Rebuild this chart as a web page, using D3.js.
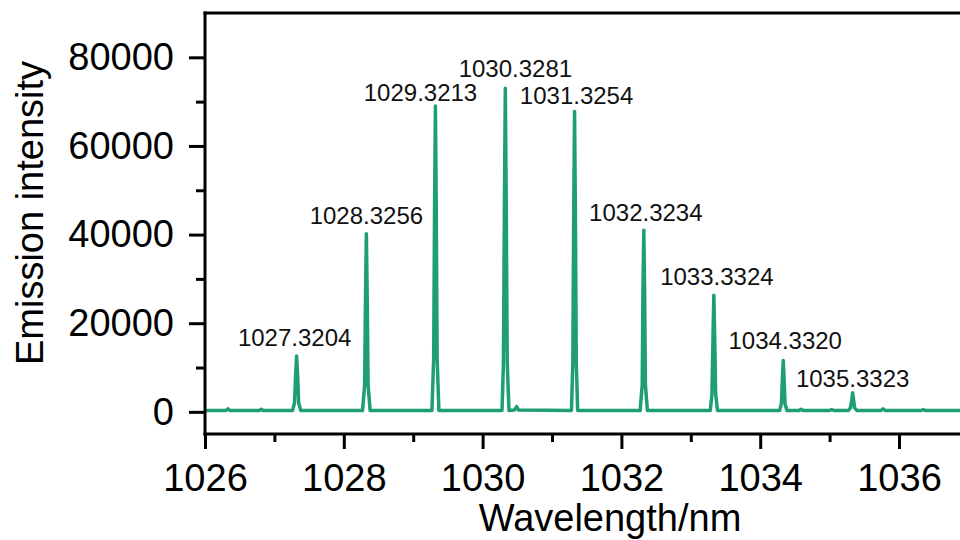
<!DOCTYPE html>
<html>
<head>
<meta charset="utf-8">
<script src="https://cdn.jsdelivr.net/npm/d3@7/dist/d3.min.js"></script>
<style>
  html, body { margin: 0; padding: 0; background: #ffffff; }
  svg { display: block; font-family: "Liberation Sans", Arial, sans-serif; }
</style>
</head>
<body>
<svg id="chart" width="960" height="540"></svg>
<script>
// ---------------- data ----------------
const peakWavelengths = [1027.3204, 1028.3256, 1029.3213, 1030.3281, 1031.3254, 1032.3234, 1033.3324, 1034.3320, 1035.3323];
const peakHeights = [12600, 40200, 69000, 73000, 67800, 41000, 26300, 11600, 4300];
const peakLabels = ["1027.3204", "1028.3256", "1029.3213", "1030.3281", "1031.3254", "1032.3234", "1033.3324", "1034.3320", "1035.3323"];

const spectrumWavelength = [
  1026.00, 1026.30, 1026.33, 1026.36, 1026.78, 1026.81, 1026.84,
  1027.26, 1027.29, 1027.305, 1027.32, 1027.335, 1027.35, 1027.38,
  1028.27, 1028.30, 1028.313, 1028.325, 1028.337, 1028.35, 1028.38,
  1029.27, 1029.295, 1029.308, 1029.32, 1029.332, 1029.345, 1029.37,
  1030.28, 1030.30, 1030.315, 1030.327, 1030.34, 1030.355, 1030.38, 1030.46, 1030.49, 1030.52,
  1031.28, 1031.30, 1031.313, 1031.325, 1031.337, 1031.35, 1031.37,
  1032.27, 1032.30, 1032.311, 1032.323, 1032.335, 1032.346, 1032.375,
  1033.28, 1033.305, 1033.32, 1033.332, 1033.344, 1033.358, 1033.385,
  1034.28, 1034.305, 1034.32, 1034.332, 1034.344, 1034.358, 1034.385,
  1034.56, 1034.59, 1034.62, 1035.00, 1035.03, 1035.06,
  1035.27, 1035.30, 1035.32, 1035.332, 1035.345, 1035.36, 1035.395,
  1035.74, 1035.77, 1035.80, 1036.32, 1036.35, 1036.38, 1037.00
];
const spectrumIntensity = [
  300, 300, 700, 300, 300, 600, 300,
  300, 2000, 8000, 12600, 8000, 2000, 300,
  300, 6000, 26000, 40200, 26000, 6000, 300,
  300, 12000, 46000, 69000, 46000, 12000, 300,
  300, 11000, 48000, 73000, 48000, 11000, 300, 400, 1200, 400,
  300, 11000, 45000, 67800, 45000, 11000, 300,
  300, 6000, 27000, 41000, 27000, 6000, 300,
  300, 4000, 17000, 26300, 17000, 4000, 300,
  300, 1800, 7500, 11600, 7500, 1800, 300,
  300, 600, 300, 300, 500, 300,
  300, 900, 2800, 4300, 2800, 900, 300,
  300, 700, 300, 300, 500, 300, 300
];

const xMajorTicks = [1026, 1028, 1030, 1032, 1034, 1036];
const xMinorTicks = [1027, 1029, 1031, 1033, 1035, 1037];
const yMajorTicks = [0, 20000, 40000, 60000, 80000];
const yMinorTicks = [10000, 30000, 50000, 70000];
const xTitle = "Wavelength/nm";
const yTitle = "Emission intensity";

// ---------------- layout ----------------
const svg = d3.select("#chart");
const plotLeft = 205, plotTop = 13, plotBottom = 434;
const x = d3.scaleLinear().domain([1026, 1037]).range([plotLeft, plotLeft + 69.4 * 11]);
const y = d3.scaleLinear().domain([-5000, 90000]).range([plotBottom, plotTop]);
const lineColor = "#1E9D77";

// spectrum line
const points = spectrumWavelength.map((w, i) => [w, spectrumIntensity[i]]);
svg.append("path")
  .datum(points)
  .attr("fill", "none")
  .attr("stroke", lineColor)
  .attr("stroke-width", 3.5)
  .attr("stroke-linejoin", "round")
  .attr("d", d3.line().x(d => x(d[0])).y(d => y(d[1])));

// axes
const axisFont = "38px";
const gx = svg.append("g").attr("transform", `translate(0,${plotBottom})`);
gx.call(d3.axisBottom(x).tickValues(xMajorTicks).tickSize(15).tickPadding(15).tickFormat(d3.format("d")));
const gxMinor = svg.append("g").attr("transform", `translate(0,${plotBottom})`);
gxMinor.call(d3.axisBottom(x).tickValues(xMinorTicks).tickSize(8).tickFormat(""));

const gy = svg.append("g").attr("transform", `translate(${plotLeft},0)`);
gy.call(d3.axisLeft(y).tickValues(yMajorTicks).tickSize(16).tickPadding(15).tickFormat(d3.format("d")));
const gyMinor = svg.append("g").attr("transform", `translate(${plotLeft},0)`);
gyMinor.call(d3.axisLeft(y).tickValues(yMinorTicks).tickSize(9).tickFormat(""));

[gx, gxMinor, gy, gyMinor].forEach(g => {
  g.selectAll(".domain").remove();
  g.selectAll(".tick line").attr("stroke", "#000").attr("stroke-width", 3);
  g.selectAll(".tick text").attr("fill", "#000").style("font-size", axisFont)
    .style("font-family", "'Liberation Sans', Arial, sans-serif");
});

// frame lines (left, top, bottom)
svg.append("line").attr("x1", plotLeft).attr("x2", plotLeft).attr("y1", plotTop - 1.5).attr("y2", plotBottom + 1.5)
  .attr("stroke", "#000").attr("stroke-width", 3);
svg.append("line").attr("x1", plotLeft - 1.5).attr("x2", 960).attr("y1", plotTop).attr("y2", plotTop)
  .attr("stroke", "#000").attr("stroke-width", 3);
svg.append("line").attr("x1", plotLeft - 1.5).attr("x2", 960).attr("y1", plotBottom).attr("y2", plotBottom)
  .attr("stroke", "#000").attr("stroke-width", 3);

// peak labels
const labelDx = [-2, 0, -15, 10, 2, 2, 3, 2, 0];
const labelDy = [10, 10, 5, 11, 7, 9, 10, 11, 6];
svg.append("g").selectAll("text")
  .data(peakLabels)
  .join("text")
  .attr("x", (d, i) => x(peakWavelengths[i]) + labelDx[i])
  .attr("y", (d, i) => y(peakHeights[i]) - labelDy[i])
  .attr("text-anchor", "middle")
  .attr("fill", "#111")
  .style("font-size", "24px")
  .text(d => d);

// axis titles
svg.append("text")
  .attr("x", 610).attr("y", 531)
  .attr("text-anchor", "middle")
  .style("font-size", "38px")
  .attr("fill", "#000")
  .text(xTitle);
svg.append("text")
  .attr("transform", `translate(43,213) rotate(-90)`)
  .attr("text-anchor", "middle")
  .style("font-size", "38px")
  .attr("fill", "#000")
  .text(yTitle);
</script>
</body>
</html>
